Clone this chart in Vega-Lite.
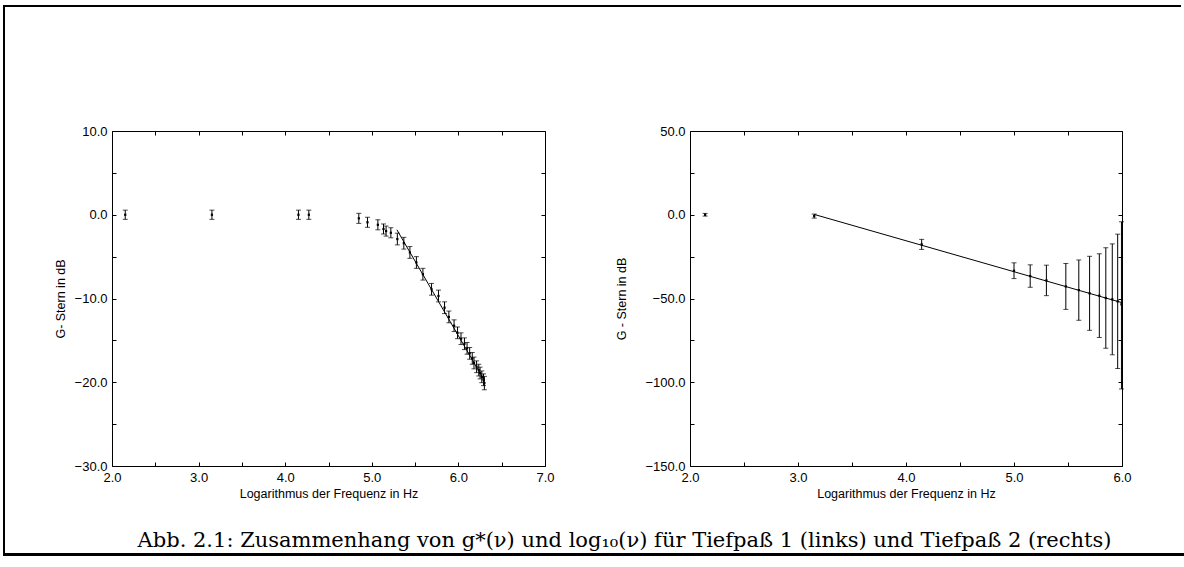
{
  "$schema": "https://vega.github.io/schema/vega-lite/v6.json",
  "background": "white",
  "padding": {"left": 3, "top": 5, "right": 0, "bottom": 0},
  "datasets": {
    "left": [
      {"x": 2.153, "y": 0, "lo": -0.55, "hi": 0.55},
      {"x": 3.154, "y": 0, "lo": -0.55, "hi": 0.55},
      {"x": 4.153, "y": 0, "lo": -0.55, "hi": 0.55},
      {"x": 4.273, "y": 0, "lo": -0.55, "hi": 0.55},
      {"x": 4.85, "y": -0.43, "lo": -1.03, "hi": 0.17},
      {"x": 4.95, "y": -0.9, "lo": -1.5, "hi": -0.3},
      {"x": 5.07, "y": -1.2, "lo": -1.8, "hi": -0.6},
      {"x": 5.135, "y": -1.7, "lo": -2.3, "hi": -1.1},
      {"x": 5.165, "y": -1.95, "lo": -2.55, "hi": -1.35},
      {"x": 5.22, "y": -2.15, "lo": -2.75, "hi": -1.55},
      {"x": 5.295, "y": -2.9, "lo": -3.6, "hi": -2.2},
      {"x": 5.37, "y": -3.4, "lo": -4.1, "hi": -2.7},
      {"x": 5.44, "y": -4.5, "lo": -5.2, "hi": -3.8},
      {"x": 5.515, "y": -5.7, "lo": -6.4, "hi": -5.0},
      {"x": 5.59, "y": -7.1, "lo": -7.8, "hi": -6.4},
      {"x": 5.69, "y": -8.9, "lo": -9.6, "hi": -8.2},
      {"x": 5.77, "y": -9.7, "lo": -10.4, "hi": -9.0},
      {"x": 5.84, "y": -11.1, "lo": -11.8, "hi": -10.4},
      {"x": 5.89, "y": -12.2, "lo": -12.9, "hi": -11.5},
      {"x": 5.95, "y": -13.25, "lo": -13.95, "hi": -12.55},
      {"x": 5.99, "y": -14.1, "lo": -14.8, "hi": -13.4},
      {"x": 6.03, "y": -14.8, "lo": -15.5, "hi": -14.1},
      {"x": 6.07, "y": -15.4, "lo": -16.1, "hi": -14.7},
      {"x": 6.1, "y": -15.95, "lo": -16.65, "hi": -15.25},
      {"x": 6.13, "y": -16.55, "lo": -17.25, "hi": -15.85},
      {"x": 6.16, "y": -17.15, "lo": -17.85, "hi": -16.45},
      {"x": 6.18, "y": -17.7, "lo": -18.4, "hi": -17.0},
      {"x": 6.21, "y": -18.15, "lo": -18.85, "hi": -17.45},
      {"x": 6.235, "y": -18.55, "lo": -19.25, "hi": -17.85},
      {"x": 6.25, "y": -18.9, "lo": -19.6, "hi": -18.2},
      {"x": 6.27, "y": -19.35, "lo": -20.05, "hi": -18.65},
      {"x": 6.29, "y": -19.7, "lo": -20.4, "hi": -19.0},
      {"x": 6.3, "y": -20.1, "lo": -20.9, "hi": -19.3}
    ],
    "leftFit": [
      {"x": 5.29, "y": -1.8},
      {"x": 6.3, "y": -19.8}
    ],
    "right": [
      {"x": 2.14, "y": 0, "lo": -0.8, "hi": 0.8},
      {"x": 3.15, "y": -0.8, "lo": -2.0, "hi": 0.4},
      {"x": 4.145, "y": -17.7, "lo": -20.7, "hi": -14.7},
      {"x": 5.0, "y": -33.4, "lo": -38.1, "hi": -28.7},
      {"x": 5.15, "y": -36.6, "lo": -43.3, "hi": -29.9},
      {"x": 5.3, "y": -39.2, "lo": -48.3, "hi": -30.1},
      {"x": 5.48, "y": -42.8, "lo": -56.5, "hi": -29.1},
      {"x": 5.6, "y": -45.0, "lo": -63.0, "hi": -27.0},
      {"x": 5.7, "y": -46.9, "lo": -69.0, "hi": -24.8},
      {"x": 5.79, "y": -48.3, "lo": -73.3, "hi": -23.3},
      {"x": 5.85, "y": -49.7, "lo": -79.7, "hi": -19.7},
      {"x": 5.91, "y": -50.5, "lo": -83.6, "hi": -17.4},
      {"x": 5.96, "y": -51.7, "lo": -91.8, "hi": -11.6},
      {"x": 5.995, "y": -53.5, "lo": -104.0, "hi": -4.2}
    ],
    "rightFit": [
      {"x": 3.15, "y": 0.2},
      {"x": 6.0, "y": -52.5}
    ]
  },
  "bounds": "flush",
  "spacing": 0,
  "vconcat": [
    {
      "width": 1178,
      "height": 2,
      "data": {"values": [{"a": 0}]},
      "mark": {"type": "point", "opacity": 0, "size": 0},
      "encoding": {},
      "view": {"stroke": null, "fill": "#000"}
    },
    {
      "bounds": "flush",
      "spacing": 109,
      "hconcat": [
        {
          "bounds": "flush",
          "spacing": 0,
          "vconcat": [
            {
              "width": 2,
              "height": 546,
              "data": {"values": [{"a": 0}]},
              "mark": {"type": "point", "opacity": 0, "size": 0},
              "encoding": {},
              "view": {"stroke": null, "fill": "#000"}
            },
            {
              "width": 1181,
              "height": 3,
              "data": {"values": [{"a": 0}]},
              "mark": {"type": "point", "opacity": 0, "size": 0},
              "encoding": {},
              "view": {"stroke": null, "fill": "#000"},
              "title": {
                "text": "Abb. 2.1: Zusammenhang von g*(ν) und log₁₀(ν) für Tiefpaß 1 (links) und Tiefpaß 2 (rechts)",
                "orient": "top",
                "anchor": "middle",
                "offset": 2,
                "dx": 31,
                "font": "DejaVu Serif",
                "fontSize": 21,
                "fontWeight": "normal",
                "color": "#000"
              }
            }
          ]
        },
        {
          "bounds": "flush",
          "spacing": 0,
          "vconcat": [
            {
              "width": 1,
              "height": 124,
              "data": {"values": [{"a": 0}]},
              "mark": {"type": "point", "opacity": 0, "size": 0},
              "encoding": {},
              "view": {"stroke": null}
            },
            {
              "bounds": "flush",
              "spacing": 145,
              "hconcat": [
                {
                  "width": 433,
                  "height": 335,
                  "layer": [
                    {
                      "data": {"name": "left"},
                      "mark": {"type": "errorbar", "ticks": {"size": 5, "color": "#000"}, "rule": {"color": "#000", "strokeWidth": 1}},
                      "encoding": {
                        "x": {"field": "x", "type": "quantitative", "scale": {"domain": [2, 7], "nice": false, "zero": false},
                          "axis": {"orient": "bottom", "values": [2, 2.5, 3, 3.5, 4, 4.5, 5, 5.5, 6, 6.5, 7], "format": ".1f", "labelExpr": "datum.value % 1 === 0 ? datum.label : ''", "title": "Logarithmus der Frequenz in Hz", "titlePadding": 3}},
                        "y": {"field": "lo", "type": "quantitative", "scale": {"domain": [-30, 10], "nice": false, "zero": false},
                          "axis": {"orient": "left", "values": [-30, -25, -20, -15, -10, -5, 0, 5, 10], "format": ".1f", "labelExpr": "datum.value % 10 === 0 ? datum.label : ''", "title": "G- Stern in dB", "titlePadding": 7}},
                        "y2": {"field": "hi"}
                      }
                    },
                    {
                      "data": {"name": "left"},
                      "mark": {"type": "point", "shape": "square", "filled": true, "size": 5, "color": "#000", "opacity": 1},
                      "encoding": {
                        "x": {"field": "x", "type": "quantitative", "axis": {"orient": "top", "values": [2, 2.5, 3, 3.5, 4, 4.5, 5, 5.5, 6, 6.5, 7], "labels": false, "title": null}},
                        "y": {"field": "y", "type": "quantitative", "axis": {"orient": "right", "values": [-30, -25, -20, -15, -10, -5, 0, 5, 10], "labels": false, "title": null}}
                      }
                    },
                    {
                      "data": {"name": "leftFit"},
                      "mark": {"type": "line", "color": "#000", "strokeWidth": 1},
                      "encoding": {
                        "x": {"field": "x", "type": "quantitative", "axis": null},
                        "y": {"field": "y", "type": "quantitative", "axis": null}
                      }
                    }
                  ]
                },
                {
                  "width": 432,
                  "height": 335,
                  "layer": [
                    {
                      "data": {"name": "right"},
                      "mark": {"type": "errorbar", "ticks": {"size": 5, "color": "#000"}, "rule": {"color": "#000", "strokeWidth": 1}},
                      "encoding": {
                        "x": {"field": "x", "type": "quantitative", "scale": {"domain": [2, 6], "nice": false, "zero": false},
                          "axis": {"orient": "bottom", "values": [2, 2.5, 3, 3.5, 4, 4.5, 5, 5.5, 6], "format": ".1f", "labelExpr": "datum.value % 1 === 0 ? datum.label : ''", "title": "Logarithmus der Frequenz in Hz", "titlePadding": 3}},
                        "y": {"field": "lo", "type": "quantitative", "scale": {"domain": [-150, 50], "nice": false, "zero": false},
                          "axis": {"orient": "left", "values": [-150, -125, -100, -75, -50, -25, 0, 25, 50], "format": ".1f", "labelExpr": "datum.value % 50 === 0 ? datum.label : ''", "title": "G - Stern in dB", "titlePadding": 16}},
                        "y2": {"field": "hi"}
                      }
                    },
                    {
                      "data": {"name": "right"},
                      "mark": {"type": "point", "shape": "square", "filled": true, "size": 5, "color": "#000", "opacity": 1},
                      "encoding": {
                        "x": {"field": "x", "type": "quantitative", "axis": {"orient": "top", "values": [2, 2.5, 3, 3.5, 4, 4.5, 5, 5.5, 6], "labels": false, "title": null}},
                        "y": {"field": "y", "type": "quantitative", "axis": {"orient": "right", "values": [-150, -125, -100, -75, -50, -25, 0, 25, 50], "labels": false, "title": null}}
                      }
                    },
                    {
                      "data": {"name": "rightFit"},
                      "mark": {"type": "line", "color": "#000", "strokeWidth": 1},
                      "encoding": {
                        "x": {"field": "x", "type": "quantitative", "axis": null},
                        "y": {"field": "y", "type": "quantitative", "axis": null}
                      }
                    }
                  ]
                }
              ]
            }
          ]
        }
      ]
    }
  ],
  "config": {
    "font": "Liberation Sans",
    "view": {"stroke": null},
    "axis": {
      "grid": false,
      "domainColor": "#000",
      "domainWidth": 1,
      "tickColor": "#000",
      "tickWidth": 1,
      "tickSize": -4,
      "labelColor": "#000",
      "labelFont": "Liberation Sans",
      "labelFontSize": 13,
      "titleFont": "Liberation Sans",
      "titleFontSize": 12.5,
      "titleFontWeight": "normal",
      "titleColor": "#000",
      "labelFlush": false,
      "labelOverlap": false,
      "labelPadding": 9
    }
  }
}
